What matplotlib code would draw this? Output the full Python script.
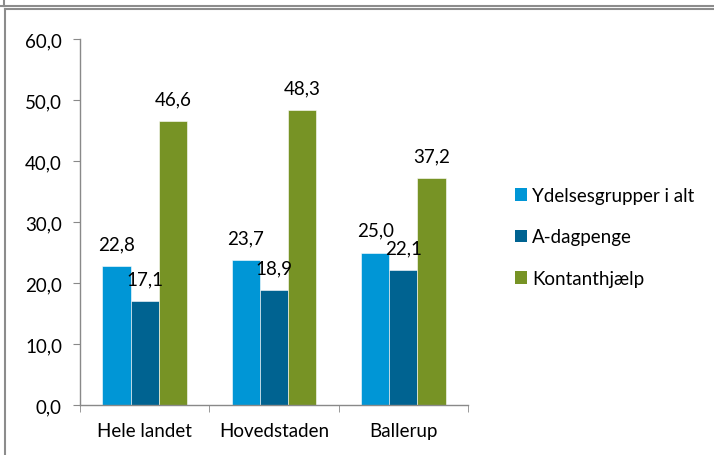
import matplotlib.pyplot as plt
import numpy as np
from matplotlib.lines import Line2D
from matplotlib.patches import Patch

categories = ["Hele landet", "Hovedstaden", "Ballerup"]
series_names = ["Ydelsesgrupper i alt", "A-dagpenge", "Kontanthjælp"]
ydelser_i_alt = [22.8, 23.7, 25.0]
a_dagpenge = [17.1, 18.9, 22.1]
kontanthjaelp = [46.6, 48.3, 37.2]
y_ticks = [0, 10, 20, 30, 40, 50, 60]

colors = ["#0096D6", "#006391", "#779325"]
fs = 13.5

plt.rcParams["font.family"] = ["Lato", "DejaVu Sans"]

W, H = 714, 456
fig = plt.figure(figsize=(W / 100, H / 100), dpi=100)
ax = fig.add_axes([80 / W, 1 - 406 / H, (468 - 80) / W, (406 - 40) / H])

x = np.arange(len(categories))
bw = 0.218
for i, (vals, c) in enumerate(zip([ydelser_i_alt, a_dagpenge, kontanthjaelp], colors)):
    pos = x + (i - 1) * bw
    ax.bar(pos, vals, width=bw, color=c, edgecolor="white", linewidth=0.4)
    for p, v in zip(pos, vals):
        ax.annotate(f"{v:.1f}".replace(".", ","), (p, v), xytext=(0, 12),
                    textcoords="offset points", ha="center", va="baseline",
                    fontsize=fs)

ax.set_xlim(-0.5, len(categories) - 0.5)
ax.set_ylim(0, 60)
ax.set_yticks(y_ticks)
ax.set_yticklabels([f"{t:.1f}".replace(".", ",") for t in y_ticks], fontsize=fs)
ax.set_xticks(x)
ax.set_xticklabels(categories, fontsize=fs)
ax.set_xticks(np.arange(len(categories) + 1) - 0.5, minor=True)
ax.tick_params(axis="x", which="major", length=0, pad=12)
ax.tick_params(axis="x", which="minor", length=5, color="#898989")
ax.tick_params(axis="y", length=5, color="#898989", pad=8)
for s in ["top", "right"]:
    ax.spines[s].set_visible(False)
for s in ["left", "bottom"]:
    ax.spines[s].set_color("#898989")
    ax.spines[s].set_linewidth(1)

handles = [Patch(facecolor=c, edgecolor="none") for c in colors]
fig.legend(handles, series_names, loc="upper left",
           bbox_to_anchor=(498 / W, 1 - 171 / H), frameon=False,
           fontsize=fs, handlelength=0.65, handleheight=0.65,
           handletextpad=0.25, labelspacing=1.31)

# outer chart frame
fc = "#8c8c8c"
fig.add_artist(Line2D([0, 1], [1 - 6.5 / H] * 2, transform=fig.transFigure, color=fc, lw=1.5))
fig.add_artist(Line2D([3.5 / W] * 2, [1, 1 - 6.5 / H], transform=fig.transFigure, color=fc, lw=1.5))
fig.add_artist(Line2D([4.5 / W, 1], [1 - 9.5 / H] * 2, transform=fig.transFigure, color=fc, lw=1.5))
fig.add_artist(Line2D([4.5 / W] * 2, [1 - 9.5 / H, 0], transform=fig.transFigure, color=fc, lw=1.5))

fig.savefig("out.png", dpi=100)
